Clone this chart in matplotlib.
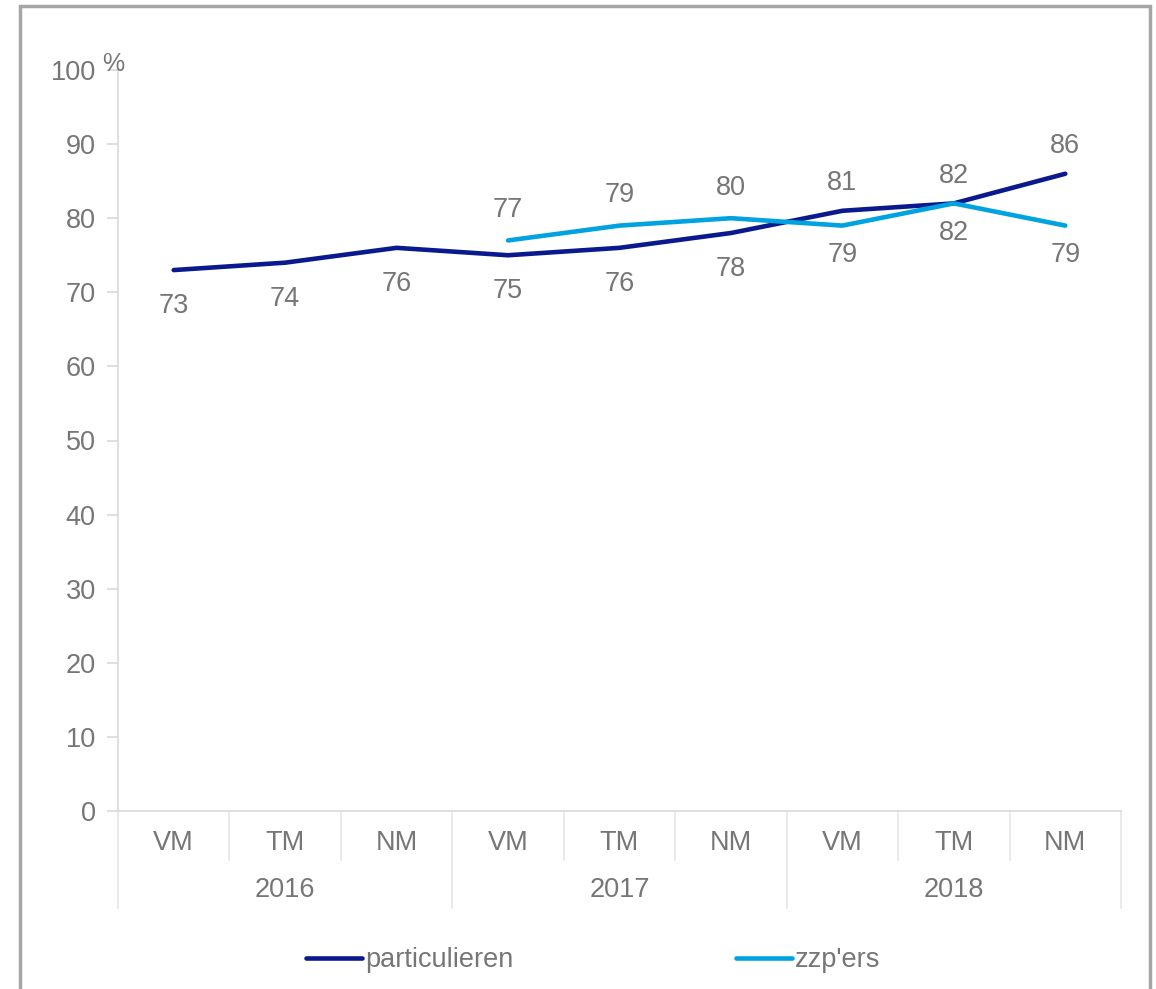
import numpy as np
import matplotlib.pyplot as plt
from matplotlib.patches import Rectangle
from matplotlib.lines import Line2D

plt.rcParams['font.family'] = ['Liberation Sans', 'DejaVu Sans']

# data
years = ["2016", "2017", "2018"]
months = ["VM", "TM", "NM"]
particulieren = [73, 74, 76, 75, 76, 78, 81, 82, 86]
zzpers = [np.nan, np.nan, np.nan, 77, 79, 80, 79, 82, 79]
# label placement per point: +1 above, -1 below
pos_part = [-1, -1, -1, -1, -1, -1, 1, 1, 1]
pos_zzp = [0, 0, 0, 1, 1, 1, -1, -1, -1]

navy = "#0a1a8e"
light = "#00a3e0"
txt = "#767676"
axc = "#d9d9d9"
fs = 19.5

fig = plt.figure(figsize=(11.56, 9.89), dpi=100)
ax = fig.add_axes([118/1156, 1-811/989, (1121-118)/1156, (811-70)/989])

x = np.arange(len(particulieren))
ax.plot(x, particulieren, color=navy, lw=3.3, solid_capstyle='round', label="particulieren")
ax.plot(x, zzpers, color=light, lw=3.3, solid_capstyle='round', label="zzp'ers")

def put_labels(vals, sides, up=21, down=24):
    for xi, v, p in zip(x, vals, sides):
        if p == 0 or np.isnan(v):
            continue
        off = up if p > 0 else -down
        ax.annotate(str(int(v)), (xi, v), xytext=(0, off), textcoords='offset points',
                    ha='center', va='center', fontsize=fs, color=txt)

put_labels(particulieren, pos_part, up=20, down=26)
put_labels(zzpers, pos_zzp, up=22, down=21)

ax.set_xlim(-0.5, len(x) - 0.5)
ax.set_ylim(0, 100)
ax.set_yticks(range(0, 101, 10))
ax.tick_params(axis='y', colors=axc, labelcolor=txt, labelsize=fs, length=8, width=1.2, pad=8)
ax.set_xticks([])
for s in ['top', 'right']:
    ax.spines[s].set_visible(False)
ax.spines['left'].set_color(axc)
ax.spines['bottom'].set_color(axc)
ax.spines['left'].set_linewidth(1.2)
ax.spines['bottom'].set_linewidth(1.2)
ax.text(-0.54, 99.2, "%", ha='center', va='bottom', fontsize=18, color=txt)

# two-level category axis
trans = ax.get_xaxis_transform()
ax_h = 811 - 70
def yfrac(py):
    return -(py - 811) / ax_h

for i in range(len(x)):
    ax.text(i, yfrac(843), months[i % 3], transform=trans, ha='center', va='center',
            fontsize=fs, color=txt)
for j, yr in enumerate(years):
    ax.text(3*j + 1, yfrac(890), yr, transform=trans, ha='center', va='center',
            fontsize=fs, color=txt)
for b in range(len(x) + 1):
    bottom = yfrac(908) if b % 3 == 0 else yfrac(860)
    ax.add_line(Line2D([b - 0.5, b - 0.5], [0, bottom], transform=trans,
                       color="#e6e6e6", lw=1.2, clip_on=False))

fig.legend(loc='center', bbox_to_anchor=(0.513, 1-960/989), ncol=2, frameon=False,
           fontsize=fs, labelcolor=txt, handlelength=2.1, handletextpad=0.1,
           columnspacing=8.2)

# outer frame
fig.add_artist(Rectangle((20/1156, -0.02), (1150-20)/1156, 1.02 - 6/989,
                         transform=fig.transFigure, fill=False,
                         edgecolor="#a6a6a6", lw=2.5))

fig.savefig("out.png", dpi=100)
